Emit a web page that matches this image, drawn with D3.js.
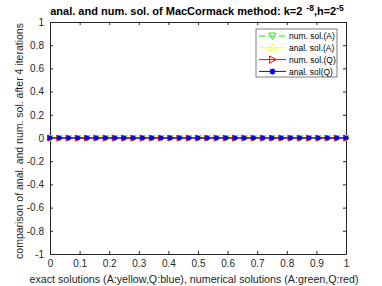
<!DOCTYPE html>
<html>
<head>
<meta charset="utf-8">
<script src="https://cdn.jsdelivr.net/npm/d3@7"></script>
<style>
  body { margin: 0; background: #fff; }
  svg { display: block; font-family: "Liberation Sans", Arial, sans-serif; }
  .tick text { fill: #262626; font-size: 10px; }
  .tick line { stroke: #262626; }
</style>
</head>
<body>
<div id="chart"></div>
<script>
// grid points x = 0..1 with h = 2^-5 (33 nodes), values after 4 iterations
const xs = [0,1/32,2/32,3/32,4/32,5/32,6/32,7/32,8/32,9/32,10/32,11/32,12/32,13/32,14/32,15/32,16/32,
            17/32,18/32,19/32,20/32,21/32,22/32,23/32,24/32,25/32,26/32,27/32,28/32,29/32,30/32,31/32,1];
const numA  = [0,0,0,0,0,0,0,0,0,0,0,0,0,0,0,0,0,0,0,0,0,0,0,0,0,0,0,0,0,0,0,0,0];
const analA = [0,0,0,0,0,0,0,0,0,0,0,0,0,0,0,0,0,0,0,0,0,0,0,0,0,0,0,0,0,0,0,0,0];
const numQ  = [0,0,0,0,0,0,0,0,0,0,0,0,0,0,0,0,0,0,0,0,0,0,0,0,0,0,0,0,0,0,0,0,0];
const analQ = [0,0,0,0,0,0,0,0,0,0,0,0,0,0,0,0,0,0,0,0,0,0,0,0,0,0,0,0,0,0,0,0,0];
const xTicks = [0,0.1,0.2,0.3,0.4,0.5,0.6,0.7,0.8,0.9,1];
const yTicks = [-1,-0.8,-0.6,-0.4,-0.2,0,0.2,0.4,0.6,0.8,1];
const labels = ["num. sol.(A)", "anal. sol.(A)", "num. sol.(Q)", "anal. sol(Q)"];

const W = 382, H = 286;
const m = {left: 50, right: 36, top: 22, bottom: 32};
const pw = W - m.left - m.right, ph = H - m.top - m.bottom;

const svg = d3.select("#chart").append("svg").attr("width", W).attr("height", H);
const g = svg.append("g").attr("transform", `translate(${m.left},${m.top})`);

const x = d3.scaleLinear().domain([0, 1]).range([0, pw]);
const y = d3.scaleLinear().domain([-1, 1]).range([ph, 0]);

/* ===== Axes (ticks inside, boxed) ===== */
const fmt = d => String(+d.toFixed(1));
const axB = g.append("g").attr("transform", `translate(0,${ph})`)
  .call(d3.axisBottom(x).tickValues(xTicks).tickFormat(fmt).tickSizeInner(-3).tickSizeOuter(0).tickPadding(6));
const axL = g.append("g")
  .call(d3.axisLeft(y).tickValues(yTicks).tickFormat(fmt).tickSizeInner(-3).tickSizeOuter(0).tickPadding(6));
const axT = g.append("g")
  .call(d3.axisTop(x).tickValues(xTicks).tickFormat("").tickSizeInner(-3).tickSizeOuter(0));
const axR = g.append("g").attr("transform", `translate(${pw},0)`)
  .call(d3.axisRight(y).tickValues(yTicks).tickFormat("").tickSizeInner(-3).tickSizeOuter(0));
[axB, axL, axT, axR].forEach(a => a.select(".domain").attr("stroke", "#262626"));

/* ===== Series ===== */
const series = [
  {vals: numA,  color: "#00ff00", dash: "6,4", marker: "down"},
  {vals: analA, color: "#ffff00", dash: null,  marker: "circle"},
  {vals: numQ,  color: "#ff0000", dash: null,  marker: "right"},
  {vals: analQ, color: "#0000ff", dash: null,  marker: "star"}
];

function drawMarker(sel, type, color, cx, cy, k) {
  if (type === "down") {
    sel.append("path").attr("d", `M${cx-3*k},${cy-2.4*k}L${cx+3*k},${cy-2.4*k}L${cx},${cy+3*k}Z`)
      .attr("fill", "none").attr("stroke", color).attr("stroke-width", 1);
  } else if (type === "circle") {
    sel.append("circle").attr("cx", cx).attr("cy", cy).attr("r", 2.7 * k)
      .attr("fill", "none").attr("stroke", color).attr("stroke-width", 1);
  } else if (type === "right") {
    sel.append("path").attr("d", `M${cx-2.4*k},${cy-3*k}L${cx+3*k},${cy}L${cx-2.4*k},${cy+3*k}Z`)
      .attr("fill", "none").attr("stroke", color).attr("stroke-width", 1);
  } else {
    const r = 2.5 * k, q = 1.8 * k;
    sel.append("path")
      .attr("d", `M${cx-r},${cy}L${cx+r},${cy}M${cx},${cy-r}L${cx},${cy+r}M${cx-q},${cy-q}L${cx+q},${cy+q}M${cx-q},${cy+q}L${cx+q},${cy-q}`)
      .attr("stroke", color).attr("stroke-width", 1.5);
  }
}

const line = d3.line().x((d, i) => x(xs[i])).y(d => y(d));
series.forEach(s => {
  g.append("path").datum(s.vals).attr("d", line)
    .attr("fill", "none").attr("stroke", s.color).attr("stroke-width", 1)
    .attr("stroke-dasharray", s.dash);
  const mg = g.append("g");
  s.vals.forEach((v, i) => drawMarker(mg, s.marker, s.color, x(xs[i]), y(v), 1));
});

/* ===== Legend ===== */
const lg = svg.append("g").attr("transform", "translate(256,29)");
lg.append("rect").attr("width", 81).attr("height", 48)
  .attr("fill", "#fff").attr("stroke", "#262626").attr("stroke-width", 0.6);
series.forEach((s, i) => {
  const cy = 7 + i * 11.8;
  lg.append("line").attr("x1", 3).attr("x2", 30).attr("y1", cy).attr("y2", cy)
    .attr("stroke", s.color).attr("stroke-width", 1).attr("stroke-dasharray", s.dash);
  drawMarker(lg, s.marker, s.color, 16.5, cy, 1.2);
  lg.append("text").attr("x", 33).attr("y", cy + 3.3).attr("font-size", 8.5)
    .attr("fill", "#000").text(labels[i]);
});

/* ===== Titles ===== */
const title = svg.append("text").attr("x", 197).attr("y", 15).attr("text-anchor", "middle")
  .attr("font-size", 11).attr("font-weight", "bold").attr("fill", "#000");
title.append("tspan").text("anal. and num. sol. of MacCormack method: k=2");
title.append("tspan").attr("dy", -4).attr("dx", 4).attr("font-size", 8.5).text("-8");
title.append("tspan").attr("dy", 4).text(",h=2");
title.append("tspan").attr("dy", -4).attr("font-size", 8.5).text("-5");

svg.append("text").attr("x", 194).attr("y", 283).attr("text-anchor", "middle")
  .attr("font-size", 10.7).attr("fill", "#262626")
  .text("exact solutions (A:yellow,Q:blue), numerical solutions (A:green,Q:red)");

svg.append("text").attr("transform", `translate(23,141) rotate(-90)`)
  .attr("text-anchor", "middle").attr("font-size", 10.5).attr("fill", "#262626")
  .text("comparison of anal. and num. sol. after 4 iterations");
</script>
</body>
</html>
